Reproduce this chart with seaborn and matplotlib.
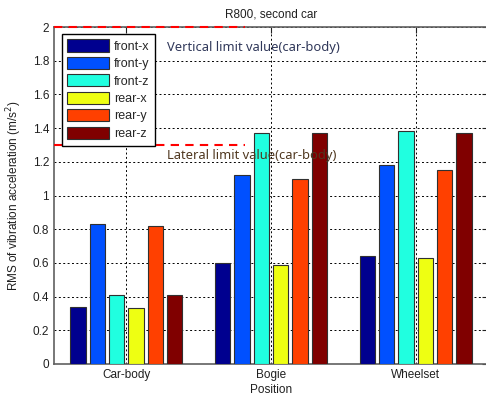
import pandas as pd
import matplotlib
matplotlib.use('Agg')
import matplotlib.pyplot as plt
import seaborn as sns
from matplotlib.ticker import FuncFormatter

# data
positions = ['Car-body', 'Bogie', 'Wheelset']
directions = ['front-x', 'front-y', 'front-z', 'rear-x', 'rear-y', 'rear-z']
front_x = [0.34, 0.60, 0.64]
front_y = [0.83, 1.12, 1.18]
front_z = [0.41, 1.37, 1.38]
rear_x = [0.33, 0.59, 0.63]
rear_y = [0.82, 1.10, 1.15]
rear_z = [0.41, 1.37, 1.37]
vertical_limit = 2.0
lateral_limit = 1.3

colors = ['#00008F', '#0050FF', '#20FFE0', '#EEFF12', '#FF4000', '#800000']

series = [front_x, front_y, front_z, rear_x, rear_y, rear_z]
rows = []
for d, vals in zip(directions, series):
    for p, v in zip(positions, vals):
        rows.append({'Position': p, 'dir': d, 'rms': v})
df = pd.DataFrame(rows)

sns.set_style('white')
plt.rcParams['font.family'] = ['Liberation Sans', 'DejaVu Sans']

fig = plt.figure(figsize=(4.86, 4.03), dpi=100)
ax = fig.add_axes([54 / 486, 1 - 364 / 403, 434 / 486, 337 / 403])

sns.barplot(data=df, x='Position', y='rms', hue='dir', order=positions,
            hue_order=directions, palette=colors, width=0.8, gap=0.2,
            edgecolor='#303030', linewidth=0.8, saturation=1, ax=ax, zorder=3)

ax.set_xlim(-0.5, 2.5)
ax.set_ylim(0, 2)
ax.set_yticks([i * 0.2 for i in range(11)])
ax.yaxis.set_major_formatter(FuncFormatter(lambda v, p: '%g' % round(v, 1)))
ax.grid(True, color='black', linestyle=(0, (2, 2.5)), linewidth=0.7, zorder=0)
ax.set_axisbelow(True)
ax.tick_params(direction='in', length=4, top=True, right=True, labelsize=8.5,
               colors='#202020', width=0.8)
for s in ax.spines.values():
    s.set_color('#606060')
    s.set_linewidth(1.2)

# limit lines
ax.plot([-0.5, 0.82], [vertical_limit, vertical_limit], color='red',
        linestyle=(0, (4, 3)), linewidth=1.5, clip_on=False, zorder=5)
ax.plot([-0.5, 0.82], [lateral_limit, lateral_limit], color='red',
        linestyle=(0, (4, 3)), linewidth=1.5, clip_on=False, zorder=5)
ax.text(0.28, 1.88, 'Vertical limit value(car-body)', fontsize=9.3,
        color='#30385a', va='center', family=['Noto Sans', 'DejaVu Sans'], zorder=6)
ax.text(0.28, 1.235, 'Lateral limit value(car-body)', fontsize=9.3,
        color='#503820', va='center', family=['Noto Sans', 'DejaVu Sans'], zorder=6)

ax.set_title('R800, second car', fontsize=8.5, pad=7, color='#202020')
ax.set_xlabel('Position', fontsize=8.5, labelpad=2, color='#202020')
ax.set_ylabel('RMS of vibration acceleration (m/s$^2$)', fontsize=8.5,
              labelpad=6, color='#202020')

leg = ax.legend(loc='upper left', bbox_to_anchor=(0.018, 0.98), fontsize=9,
                frameon=True, fancybox=False, edgecolor='black',
                handlelength=3.3, handleheight=1.12, labelspacing=0.33,
                handletextpad=0.4, borderpad=0.45, borderaxespad=0)
leg.get_frame().set_linewidth(1.0)
leg.get_frame().set_alpha(1)
leg.set_zorder(7)

fig.savefig('out.png', dpi=100)
